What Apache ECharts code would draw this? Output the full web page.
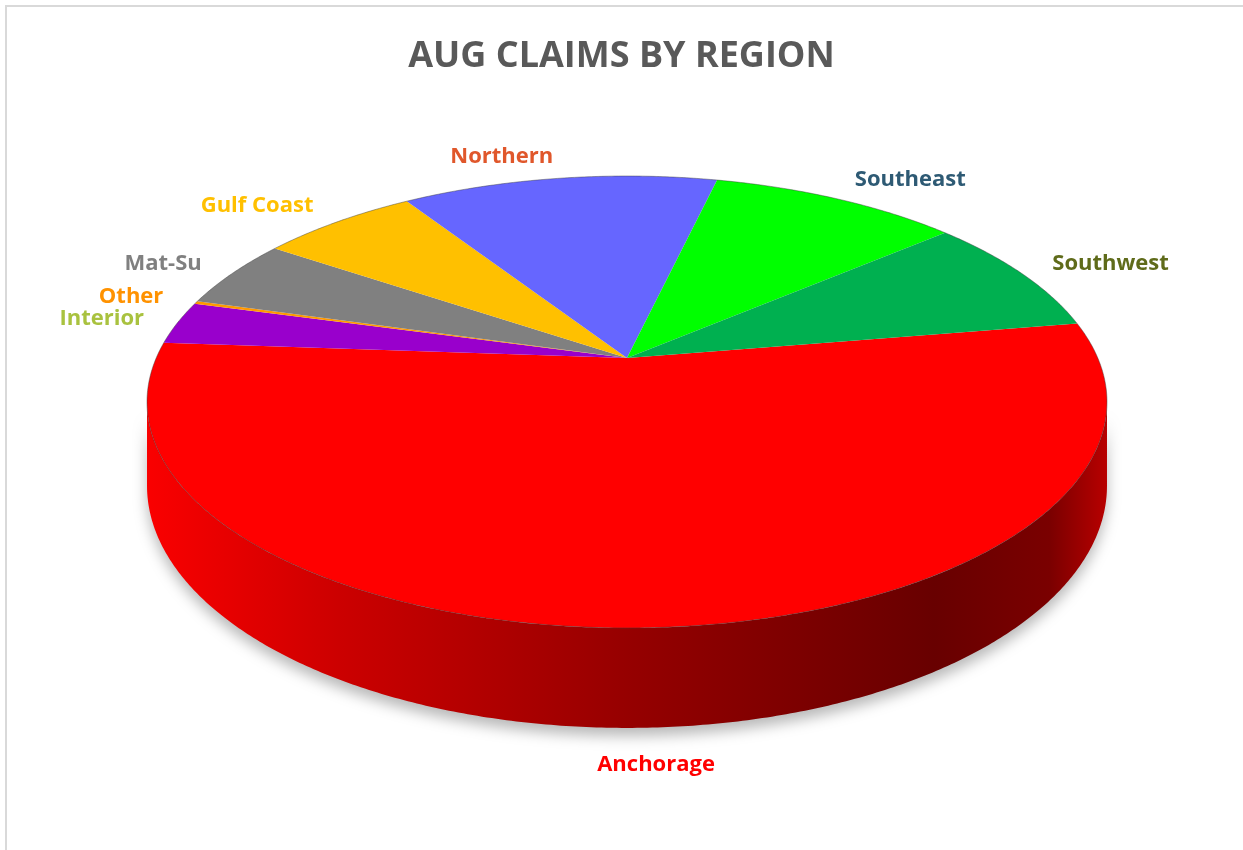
<!DOCTYPE html>
<html>
<head>
<meta charset="utf-8">
<title>Aug Claims by Region</title>
<script src="https://cdn.jsdelivr.net/npm/echarts@6/dist/echarts.min.js"></script>
<style>
  html, body { margin: 0; padding: 0; background: #ffffff; }
  #chart { width: 1243px; height: 850px; }
</style>
</head>
<body>
<div id="chart"></div>
<script>
// Claims per region, in slice order (clockwise from the right edge)
const regions = ['Anchorage', 'Interior', 'Other', 'Mat-Su', 'Gulf Coast', 'Northern', 'Southeast', 'Southwest'];
const claims = [537, 31, 2, 50, 64, 128, 101, 86];
const sliceColors = ['#FF0000', '#9900CC', '#FF9900', '#808080', '#FFC000', '#6666FF', '#00FF00', '#00B050'];
const labelColors = ['#FF0000', '#A9C23F', '#FF9200', '#808080', '#FFC000', '#E0572B', '#2E5A74', '#5F6B1A'];

// Disc geometry: centre, radii of the top face, perspective factor, thickness, first slice angle
const PIE = { cx: 627, cy: 358, rx: 470.8, ry: 217.4, k: 0.1947, depth: 80.5, start: 9.45 };
const FONT = '"Open Sans", "Liberation Sans", sans-serif';

const total = claims.reduce((a, b) => a + b, 0);
const bounds = [];
let acc = 0;
claims.forEach(v => {
  const a0 = PIE.start - acc / total * 360;
  acc += v;
  bounds.push([a0, PIE.start - acc / total * 360]);
});

// Project a rim angle (degrees, counter-clockwise from the right) onto the screen.
// drop = 0 for the top face rim, 1 for the bottom rim.
function project(deg, drop) {
  const t = deg * Math.PI / 180;
  const X = Math.cos(t), Z = Math.sin(t);
  const w = 1 + PIE.k * Z;
  return [PIE.cx + PIE.rx * X / w, PIE.cy - PIE.ry * Z / w + (drop || 0) * PIE.depth / w];
}
function arc(a0, a1, drop) {
  const n = Math.max(2, Math.ceil(Math.abs(a1 - a0) / 0.5));
  const pts = [];
  for (let i = 0; i <= n; i++) pts.push(project(a0 + (a1 - a0) * i / n, drop));
  return pts;
}
const silhouette = Math.asin(PIE.k) * 180 / Math.PI;
function wallRange(a0, a1) {
  const lo = -180 + silhouette, hi = -silhouette;
  for (const s of [-360, 0, 360]) {
    const A = Math.min(a0 + s, hi), B = Math.max(a1 + s, lo);
    if (A > B) return [A, B];
  }
  return null;
}

const seriesData = claims.map((v, i) => ({ name: regions[i], value: v }));

function renderWall(params, api) {
  const i = params.dataIndex;
  const r = wallRange(bounds[i][0], bounds[i][1]);
  if (!r) return { type: 'group', children: [] };
  const pts = arc(r[0], r[1], 0).concat(arc(r[1], r[0], 1));
  const left = project(-180 + silhouette, 0)[0], right = project(-silhouette, 0)[0];
  return {
    type: 'group',
    children: [{
      type: 'polygon',
      shape: { points: pts },
      style: {
        fill: {
          type: 'linear', x: left, y: 0, x2: right, y2: 0, global: true,
          colorStops: [
            { offset: 0, color: '#FA0000' },
            { offset: 0.2, color: '#CC0000' },
            { offset: 0.5, color: '#960000' },
            { offset: 0.82, color: '#680000' },
            { offset: 0.94, color: '#7A0000' },
            { offset: 1, color: '#B80000' }
          ]
        },
        shadowBlur: 14,
        shadowColor: 'rgba(0,0,0,0.28)',
        shadowOffsetY: 8
      }
    }]
  };
}

function renderTop(params, api) {
  const i = params.dataIndex;
  const a0 = bounds[i][0], a1 = bounds[i][1];
  const pts = [[PIE.cx, PIE.cy]].concat(arc(a0, a1, 0));
  const mid = (a0 + a1) / 2;
  const t = mid * Math.PI / 180;
  const c = Math.cos(t), s = Math.sin(t);
  const front = s < -0.5;
  const p = project(mid, s < 0 ? 1 : 0);
  const tx = p[0] + c * 34;
  const ty = p[1] - s * (s > 0 ? 22 : 37);
  return {
    type: 'group',
    children: [
      {
        type: 'polygon',
        shape: { points: pts },
        style: { fill: sliceColors[i] }
      },
      {
        type: 'polyline',
        shape: { points: arc(a0, a1, 0) },
        style: { fill: null, stroke: 'rgba(60,60,60,0.45)', lineWidth: 1 }
      },
      {
        type: 'text',
        x: tx, y: ty,
        style: {
          text: regions[i],
          fill: labelColors[i],
          fontFamily: FONT,
          fontWeight: 'bold',
          fontSize: 22,
          align: front ? 'center' : (c >= 0 ? 'left' : 'right'),
          verticalAlign: 'middle'
        }
      }
    ]
  };
}

const chart = echarts.init(document.getElementById('chart'));
chart.setOption({
  animation: false,
  backgroundColor: '#ffffff',
  title: {
    text: 'AUG CLAIMS BY REGION',
    left: 'center',
    top: 34,
    textStyle: { fontFamily: FONT, fontWeight: 'bold', fontSize: 36, color: '#595959' }
  },
  graphic: [{
    type: 'rect',
    shape: { x: 6, y: 6, width: 1300, height: 900 },
    style: { fill: null, stroke: '#D9D9D9', lineWidth: 2 },
    silent: true
  }],
  series: [
    { type: 'custom', name: 'side', coordinateSystem: 'none', z: 1, renderItem: renderWall, data: seriesData },
    { type: 'custom', name: 'Claims', coordinateSystem: 'none', z: 2, renderItem: renderTop, data: seriesData }
  ]
});
</script>
</body>
</html>
